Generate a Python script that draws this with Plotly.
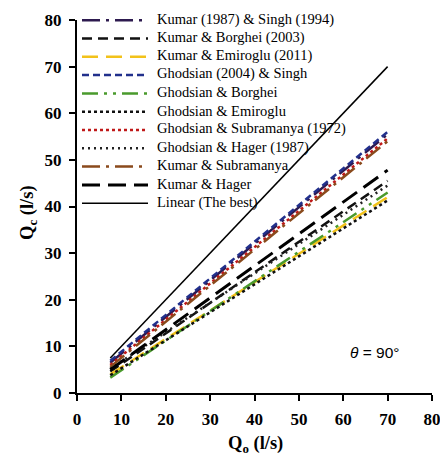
import plotly.graph_objects as go

# Observed discharge range Qo (l/s) at which each relation is evaluated
qo = [7.5, 70]

# Computed discharge Qc (l/s) at the two ends of the range, per relation
names = [
    "Kumar (1987) & Singh (1994)",
    "Kumar & Borghei (2003)",
    "Kumar & Emiroglu (2011)",
    "Ghodsian (2004) & Singh",
    "Ghodsian & Borghei",
    "Ghodsian & Emiroglu",
    "Ghodsian & Subramanya (1972)",
    "Ghodsian & Hager (1987)",
    "Kumar & Subramanya",
    "Kumar & Hager",
    "Linear (The best)",
]
qc_kumar_singh = [6.5, 55.5]
qc_kumar_borghei = [4.6, 45.5]
qc_kumar_emiroglu = [4.0, 42.0]
qc_ghodsian_singh = [6.9, 56.0]
qc_ghodsian_borghei = [3.3, 43.0]
qc_ghodsian_emiroglu = [3.8, 41.3]
qc_ghodsian_subramanya = [6.0, 54.6]
qc_ghodsian_hager = [5.2, 44.5]
qc_kumar_subramanya = [5.6, 54.0]
qc_kumar_hager = [5.0, 47.8]
qc_linear = [7.5, 70.0]

series = [
    qc_kumar_singh, qc_kumar_borghei, qc_kumar_emiroglu, qc_ghodsian_singh,
    qc_ghodsian_borghei, qc_ghodsian_emiroglu, qc_ghodsian_subramanya,
    qc_ghodsian_hager, qc_kumar_subramanya, qc_kumar_hager, qc_linear,
]

styles = [
    dict(color="#2d1a4f", dash="18px,6px,3px,6px", width=2.5),
    dict(color="#111111", dash="10px,6px", width=2.5),
    dict(color="#f2c21a", dash="16px,8px", width=2.5),
    dict(color="#22308c", dash="7px,4px", width=2.5),
    dict(color="#4a9a2c", dash="16px,6px,3px,6px,3px,6px", width=2.5),
    dict(color="#111111", dash="3px,3px", width=2.5),
    dict(color="#c01818", dash="3px,3px", width=2.5),
    dict(color="#222222", dash="2px,4px", width=2.5),
    dict(color="#8a4a1c", dash="18px,6px,3px,6px", width=2.5),
    dict(color="#000000", dash="18px,8px", width=3),
    dict(color="#000000", dash="solid", width=1.5),
]

W, H = 440, 457
L, R, T, B = 77, 8, 20, 64
plot_w, plot_h = W - L - R, H - T - B


def px_x(px):
    return (px - L) / plot_w


def px_y(py):
    return 1 - (py - T) / plot_h


fig = go.Figure()
for name, qc, st in zip(names, series, styles):
    fig.add_trace(go.Scatter(x=qo, y=qc, mode="lines", name=name, line=st,
                             showlegend=False))

serif = "Liberation Serif"

# Key drawn in the upper-left corner: long line samples followed by labels
key_shapes, key_notes = [], []
row0_px, row_step_px = 19.0, 18.3
for i, (name, st) in enumerate(zip(names, styles)):
    row_px = row0_px + i * row_step_px
    key_shapes.append(dict(type="line", xref="paper", yref="paper",
                           x0=px_x(82), x1=px_x(148),
                           y0=px_y(row_px + 1.2), y1=px_y(row_px + 1.2),
                           line=dict(color=st["color"], dash=st["dash"],
                                     width=st["width"])))
    key_notes.append(dict(x=px_x(155), y=px_y(row_px), xref="paper", yref="paper",
                          xanchor="left", yanchor="middle", showarrow=False,
                          text=name, font=dict(family=serif, size=14.5,
                                               color="black")))

title_font = dict(family=serif, size=18.5, color="black", weight="bold")
axis_titles = [
    dict(x=px_x(255), y=px_y(444), xref="paper", yref="paper",
         xanchor="center", yanchor="middle", showarrow=False,
         text="Q<sub>o</sub> (l/s)", font=title_font),
    dict(x=px_x(28), y=px_y(212), xref="paper", yref="paper",
         xanchor="center", yanchor="middle", showarrow=False, textangle=-90,
         text="Q<sub>c</sub> (l/s)", font=title_font),
]

axis_common = dict(
    showline=True, linecolor="black", linewidth=2,
    ticks="outside", ticklen=6, tickwidth=2, tickcolor="black",
    showgrid=False, zeroline=False, mirror=False, automargin=False,
    tickfont=dict(family=serif, size=17, color="black", weight="bold"),
    range=[0, 80], dtick=10, ticklabelstandoff=4,
)

fig.update_layout(
    width=W, height=H,
    margin=dict(l=L, r=R, t=T, b=B, autoexpand=False),
    paper_bgcolor="white", plot_bgcolor="white",
    xaxis=dict(**axis_common, ticklabeloverflow="allow"),
    yaxis=dict(**axis_common),
    showlegend=False,
    shapes=key_shapes,
    annotations=key_notes + axis_titles + [dict(
        x=67.2, y=8.6, xref="x", yref="y", showarrow=False,
        text="<i>θ</i> = 90°",
        font=dict(family="Liberation Sans", size=15.5, color="black"),
    )],
)

fig.write_html("out.html")
